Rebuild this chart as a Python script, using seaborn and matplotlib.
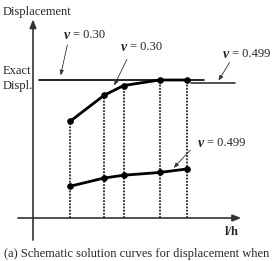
import matplotlib
matplotlib.use('Agg')
import matplotlib.pyplot as plt
import pandas as pd
import seaborn as sns

# schematic values (displacement normalised to the exact value)
lh = [2.0, 3.85, 4.9, 6.85, 8.3]
disp_030 = [0.70, 0.89, 0.96, 1.0, 1.0]
disp_0499 = [0.23, 0.29, 0.31, 0.33, 0.355]
exact = 1.0

sns.set_style('white')
plt.rcParams['font.family'] = ['Liberation Serif', 'DejaVu Serif']

fig = plt.figure(figsize=(2.73, 2.61), dpi=100)
ax = fig.add_axes([0, 0, 1, 1])
ax.set_xlim(-1.784, 12.97)
ax.set_ylim(-0.3116, 1.5797)
ax.axis('off')

df = pd.DataFrame({'lh': lh * 2,
                   'disp': disp_030 + disp_0499,
                   'nu': ['0.30'] * 5 + ['0.499'] * 5})

# dotted drop lines
for x, y in zip(lh, disp_030):
    ax.plot([x, x], [0, y], color='black', lw=1.1, ls=(0, (1.2, 0.9)))

sns.lineplot(data=df, x='lh', y='disp', units='nu', estimator=None,
             color='black', lw=2.0, marker='o', markersize=4,
             markeredgecolor='black', ax=ax, legend=False)

# exact displacement lines
ax.plot([0.32, 9.24], [exact, exact], color='black', lw=1.2)
ax.plot([8.54, 10.92], [0.978, 0.978], color='#333333', lw=1.2)

# axes with arrows
ax.annotate('', xy=(0, 1.46), xytext=(0, -0.18),
            arrowprops=dict(arrowstyle='-|>,head_width=0.2,head_length=0.5',
                            color='#333333', lw=1.2))
ax.annotate('', xy=(11.4, 0), xytext=(-0.97, 0),
            arrowprops=dict(arrowstyle='-|>,head_width=0.2,head_length=0.5',
                            color='#333333', lw=1.2))

fs = 9
ax.text(-1.62, 1.493, 'Displacement', fontsize=fs, ha='left', va='center')
ax.text(-1.62, 1.065, 'Exact', fontsize=fs, ha='left', va='center')
ax.text(-1.62, 0.957, 'Displ.', fontsize=fs, ha='left', va='center')
ax.text(10.75, -0.101, 'l/h', fontsize=fs, ha='center', va='center',
        fontweight='bold')
fig.text(0.5, 0.025, '(a) Schematic solution curves for displacement when',
         fontsize=fs, ha='center', va='center')


def nu_label(x, y, val, tip, base):
    ax.text(x, y, 'ν', fontsize=10, ha='right', va='center',
            fontweight='bold', fontstyle='italic')
    ax.text(x + 0.16, y, '= ' + val, fontsize=fs, ha='left', va='center')
    ax.annotate('', xy=tip, xytext=base,
                arrowprops=dict(arrowstyle='-|>,head_width=0.12,head_length=0.3',
                                color='#333333', lw=0.6))


nu_label(2.0, 1.326, '0.30', (1.46, 1.014), (1.89, 1.275))
nu_label(5.08, 1.239, '0.30', (4.32, 0.942), (5.14, 1.167))
nu_label(10.6, 1.188, '0.499', (9.95, 0.978), (10.7, 1.145))
nu_label(9.24, 0.543, '0.499', (7.5, 0.348), (8.6, 0.507))

fig.savefig('out.png', dpi=100)
